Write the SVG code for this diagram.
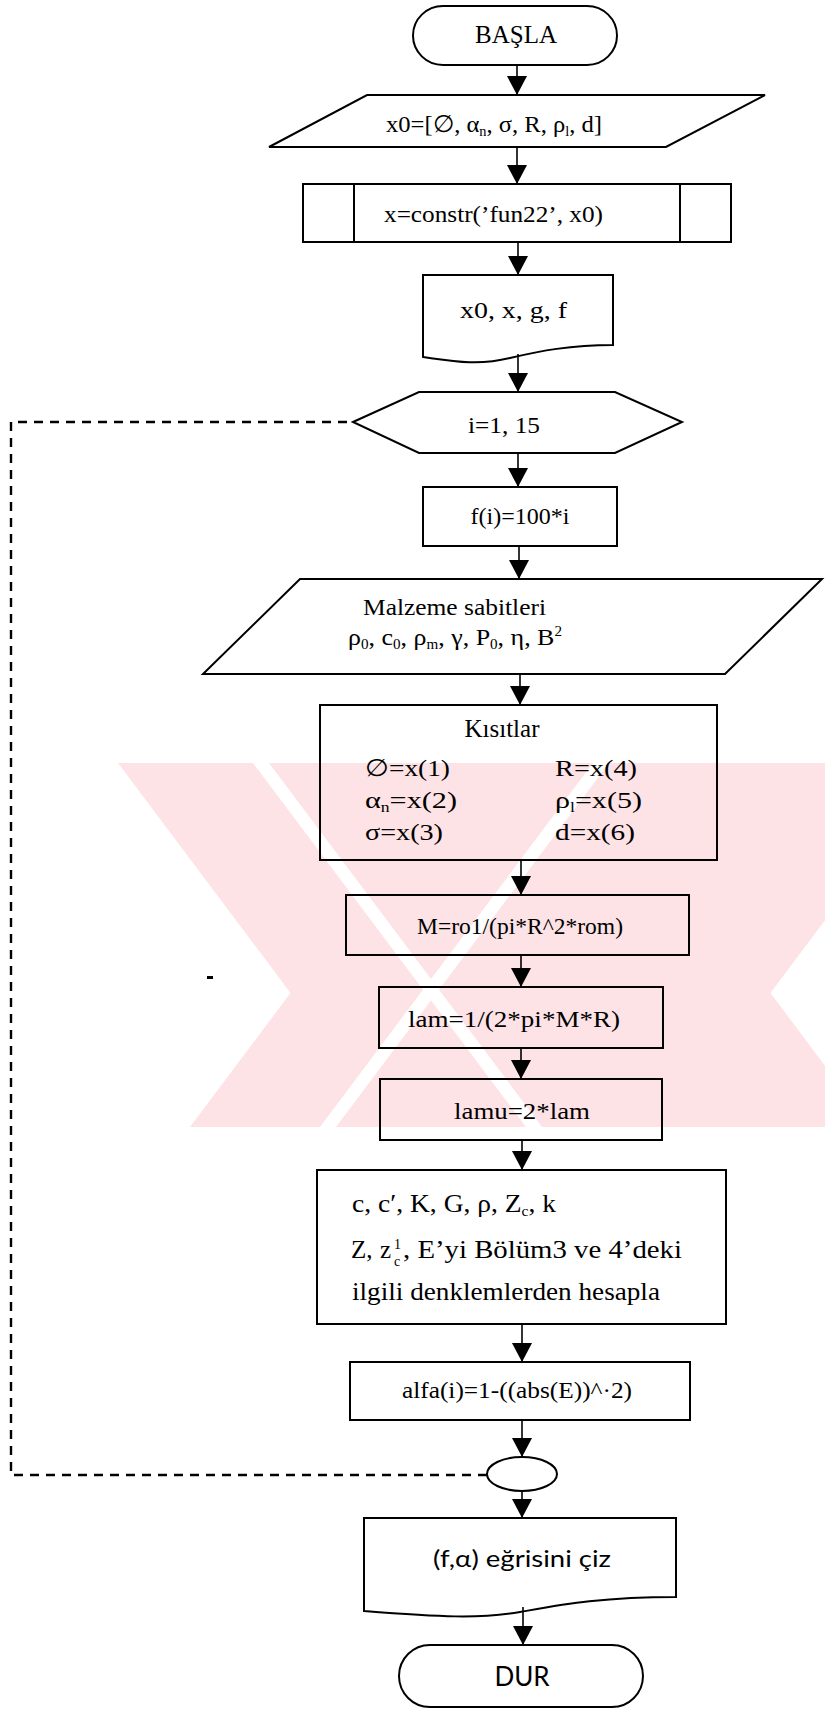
<svg xmlns="http://www.w3.org/2000/svg" width="825" height="1709" viewBox="0 0 825 1709">
  <defs>
    <marker id="arrow" markerUnits="userSpaceOnUse" markerWidth="20" markerHeight="20" refX="19" refY="10" orient="auto">
      <path d="M0,0 L19,10 L0,20 Z" fill="#000"/>
    </marker>
    <style>
      .shape { fill: none; stroke: #000; stroke-width: 2; }
      .flow { stroke: #000; stroke-width: 1.6; fill: none; marker-end: url(#arrow); }
      .loop { stroke: #000; stroke-width: 2.4; fill: none; stroke-dasharray: 9 7; }
      .t { font-family: "Liberation Serif", "Times New Roman", serif; font-size: 24px; fill: #000; }
      .c { text-anchor: middle; }
      .s { font-family: "Lato", "Open Sans", sans-serif; fill: #000; text-anchor: middle; }
      .sub { font-size: 14px; }
      .wm { fill: #fde3e6; }
      .wmgap { fill: #ffffff; }
    </style>
  </defs>

  <rect x="0" y="0" width="825" height="1709" fill="#ffffff"/>

  <!-- background mark -->
  <g id="watermark">
    <polygon class="wm" points="118,763 598,763 871,1127 391,1127"/>
    <polygon class="wm" points="190,1127 670,1127 943,763 463,763"/>
    <polygon class="wmgap" points="253,763 269,763 542,1127 526,1127"/>
    <polygon class="wmgap" points="320,1127 336,1127 609,763 593,763"/>
  </g>

  <!-- connectors -->
  <g id="connectors">
    <line class="flow" x1="517" y1="65" x2="517" y2="95"/>
    <line class="flow" x1="517" y1="147" x2="517" y2="184"/>
    <line class="flow" x1="518" y1="242" x2="518" y2="275"/>
    <line class="flow" x1="518" y1="354" x2="518" y2="392"/>
    <line class="flow" x1="518" y1="453" x2="518" y2="487"/>
    <line class="flow" x1="519" y1="546" x2="519" y2="579"/>
    <line class="flow" x1="520" y1="674" x2="520" y2="705"/>
    <line class="flow" x1="521" y1="860" x2="521" y2="895"/>
    <line class="flow" x1="521" y1="955" x2="521" y2="987"/>
    <line class="flow" x1="521" y1="1048" x2="521" y2="1079"/>
    <line class="flow" x1="522" y1="1140" x2="522" y2="1170"/>
    <line class="flow" x1="522" y1="1324" x2="522" y2="1362"/>
    <line class="flow" x1="522" y1="1420" x2="522" y2="1457"/>
    <line class="flow" x1="522" y1="1491" x2="522" y2="1518"/>
    <line class="flow" x1="523" y1="1607" x2="523" y2="1645"/>
    <!-- loop return -->
    <polyline class="loop" points="487,1475 11,1475 11,422 353,422"/>
  </g>

  <g id="start">
    <rect class="shape" x="413" y="6" width="204" height="59" rx="30" ry="30"/>
    <text class="t c" x="516" y="43" style="font-size:25px">BAŞLA</text>
  </g>

  <g id="input-x0">
    <polygon class="shape" points="367,95 765,95 666,147 269,147"/>
    <text class="t" x="386" y="132" textLength="216" lengthAdjust="spacingAndGlyphs">x0=[∅, α<tspan class="sub" dy="4">n</tspan><tspan dy="-4">, σ, R, ρ</tspan><tspan class="sub" dy="4">l</tspan><tspan dy="-4">, d]</tspan></text>
  </g>

  <g id="constr">
    <rect class="shape" x="303" y="184" width="428" height="58"/>
    <line class="shape" x1="354" y1="184" x2="354" y2="242"/>
    <line class="shape" x1="680" y1="184" x2="680" y2="242"/>
    <text class="t" x="384" y="222" textLength="219" lengthAdjust="spacingAndGlyphs">x=constr(’fun22’, x0)</text>
  </g>

  <g id="output-x0">
    <path class="shape" d="M423,275 H613 V345 C570,345 540,351 510,358 C478,366 452,361 423,357 Z"/>
    <text class="t" x="460" y="318" textLength="107" lengthAdjust="spacingAndGlyphs">x0, x, g, f</text>
  </g>

  <g id="loop-start">
    <polygon class="shape" points="353,422 419,392 615,392 682,422 615,453 419,453"/>
    <text class="t" x="468" y="433" textLength="72" lengthAdjust="spacingAndGlyphs">i=1, 15</text>
  </g>

  <g id="freq">
    <rect class="shape" x="423" y="487" width="194" height="59"/>
    <text class="t c" x="520" y="524">f(i)=100*i</text>
  </g>

  <g id="material">
    <polygon class="shape" points="300,579 822,579 725,674 203,674"/>
    <text class="t" x="363" y="615" textLength="183" lengthAdjust="spacingAndGlyphs">Malzeme sabitleri</text>
    <text class="t" x="348" y="645" textLength="214" lengthAdjust="spacingAndGlyphs">ρ<tspan class="sub" dy="4">0</tspan><tspan dy="-4">, c</tspan><tspan class="sub" dy="4">0</tspan><tspan dy="-4">, ρ</tspan><tspan class="sub" dy="4">m</tspan><tspan dy="-4">, γ, P</tspan><tspan class="sub" dy="4">0</tspan><tspan dy="-4">, η, B</tspan><tspan class="sub" dy="-9">2</tspan></text>
  </g>

  <g id="constraints">
    <rect class="shape" x="320" y="705" width="397" height="155"/>
    <text class="t c" x="502" y="737" style="font-size:25px">Kısıtlar</text>
    <text class="t" x="365" y="776" textLength="85" lengthAdjust="spacingAndGlyphs">∅=x(1)</text>
    <text class="t" x="365" y="808" textLength="92" lengthAdjust="spacingAndGlyphs">α<tspan class="sub" dy="4">n</tspan><tspan dy="-4">=x(2)</tspan></text>
    <text class="t" x="365" y="840" textLength="78" lengthAdjust="spacingAndGlyphs">σ=x(3)</text>
    <text class="t" x="555" y="776" textLength="82" lengthAdjust="spacingAndGlyphs">R=x(4)</text>
    <text class="t" x="555" y="808" textLength="87" lengthAdjust="spacingAndGlyphs">ρ<tspan class="sub" dy="4">l</tspan><tspan dy="-4">=x(5)</tspan></text>
    <text class="t" x="555" y="840" textLength="80" lengthAdjust="spacingAndGlyphs">d=x(6)</text>
  </g>

  <g id="calc-m">
    <rect class="shape" x="346" y="895" width="343" height="60"/>
    <text class="t" x="417" y="934" textLength="206" lengthAdjust="spacingAndGlyphs">M=ro1/(pi*R^2*rom)</text>
  </g>

  <g id="calc-lam">
    <rect class="shape" x="379" y="987" width="284" height="61"/>
    <text class="t" x="408" y="1027" textLength="212" lengthAdjust="spacingAndGlyphs">lam=1/(2*pi*M*R)</text>
  </g>

  <g id="calc-lamu">
    <rect class="shape" x="380" y="1079" width="282" height="61"/>
    <text class="t" x="454" y="1119" textLength="136" lengthAdjust="spacingAndGlyphs">lamu=2*lam</text>
  </g>

  <g id="calc-params">
    <rect class="shape" x="317" y="1170" width="409" height="154"/>
    <text class="t" x="352" y="1212" style="font-size:25px" textLength="204" lengthAdjust="spacingAndGlyphs">c, c′, K, G, ρ, Z<tspan class="sub" dy="4">c</tspan><tspan dy="-4">, k</tspan></text>
    <text class="t" x="351" y="1258" style="font-size:25px">Z,</text>
    <text class="t" x="380" y="1258" style="font-size:25px">z</text>
    <text class="t" x="394" y="1249" style="font-size:14px">1</text>
    <text class="t" x="394" y="1266" style="font-size:14px">c</text>
    <text class="t" x="403" y="1258" style="font-size:25px" textLength="279" lengthAdjust="spacingAndGlyphs">, E’yi Bölüm3 ve 4’deki</text>
    <text class="t" x="352" y="1300" style="font-size:25px" textLength="308" lengthAdjust="spacingAndGlyphs">ilgili denklemlerden hesapla</text>
  </g>

  <g id="calc-alfa">
    <rect class="shape" x="350" y="1362" width="340" height="58"/>
    <text class="t" x="402" y="1398" textLength="230" lengthAdjust="spacingAndGlyphs">alfa(i)=1-((abs(E))^·2)</text>
  </g>

  <g id="loop-end">
    <ellipse class="shape" cx="522" cy="1474" rx="35" ry="17"/>
  </g>

  <g id="plot">
    <path class="shape" d="M364,1518 H676 V1597 C600,1597 560,1605 520,1612 C480,1619 440,1617 364,1611 Z"/>
    <text class="s" x="522" y="1567" style="font-size:24px" textLength="178" lengthAdjust="spacingAndGlyphs">(f,α) eğrisini çiz</text>
  </g>

  <g id="stop">
    <rect class="shape" x="399" y="1645" width="244" height="62" rx="31" ry="31"/>
    <text class="s" x="522" y="1686" style="font-size:26px">DUR</text>
  </g>

  <rect x="207" y="976" width="6" height="3" fill="#000"/>
</svg>
